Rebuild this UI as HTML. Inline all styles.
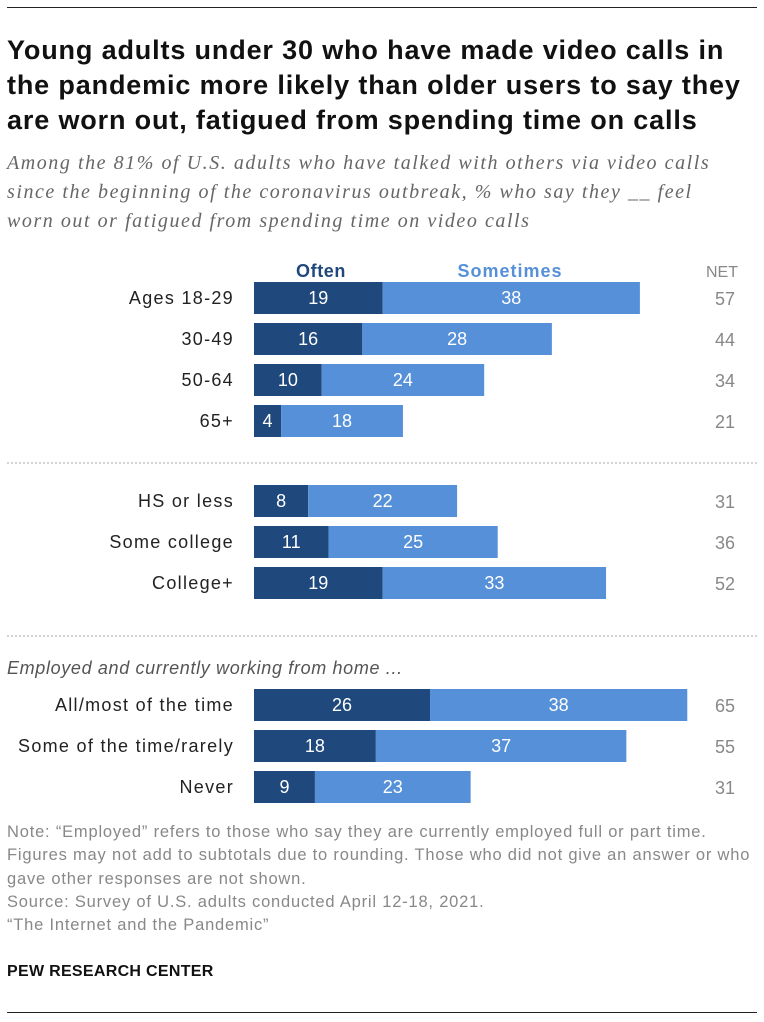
<!DOCTYPE html>
<html><head><meta charset="utf-8"><style>
body{margin:0;width:764px;height:1022px;background:#fff;font-family:"Liberation Sans",sans-serif;position:relative;overflow:hidden}
.abs{position:absolute;white-space:nowrap}
</style></head><body>
<div class="abs" style="left:7px;top:7px;width:750px;height:1px;background:#222"></div>
<div class="abs" style="left:7px;top:33px;font-size:27px;letter-spacing:0.85px;font-weight:bold;line-height:35px;color:#111">Young adults under 30 who have made video calls in<br>the pandemic more likely than older users to say they<br>are worn out, fatigued from spending time on calls</div>
<div class="abs" style="left:7px;top:149px;font-size:20px;letter-spacing:1.55px;font-style:italic;line-height:29px;color:#666;font-family:'Liberation Serif',serif">Among the 81% of U.S. adults who have talked with others via video calls<br>since the beginning of the coronavirus outbreak, % who say they __ feel<br>worn out or fatigued from spending time on video calls</div>
<svg class="abs" style="left:0;top:0" width="764" height="1022">
<text x="321" y="277" text-anchor="middle" font-size="18" letter-spacing="0.6" font-weight="bold" fill="#1f487c">Often</text>
<text x="510" y="277" text-anchor="middle" font-size="18" letter-spacing="1" font-weight="bold" fill="#5590d8">Sometimes</text>
<text x="722" y="277" text-anchor="middle" font-size="16" fill="#888">NET</text>
<line x1="7" y1="463" x2="757" y2="463" stroke="#aaa" stroke-dasharray="2,2"/>
<line x1="7" y1="636" x2="757" y2="636" stroke="#aaa" stroke-dasharray="2,2"/>
<text x="7" y="674" font-size="18" letter-spacing="0.65" font-style="italic" fill="#555">Employed and currently working from home ...</text>
<g id="bars"></g>
</svg>
<div class="abs" style="left:7px;top:821px;font-size:16.5px;letter-spacing:0.8px;line-height:23.3px;color:#888">Note: “Employed” refers to those who say they are currently employed full or part time.<br>Figures may not add to subtotals due to rounding. Those who did not give an answer or who<br>gave other responses are not shown.<br>Source: Survey of U.S. adults conducted April 12-18, 2021.<br>“The Internet and the Pandemic”</div>
<div class="abs" style="left:7px;top:963px;font-size:16px;letter-spacing:0.3px;font-weight:bold;color:#111">PEW RESEARCH CENTER</div>
<div class="abs" style="left:7px;top:1012px;width:750px;height:1px;background:#222"></div>
<script>
const categories=["Ages 18-29","30-49","50-64","65+","HS or less","Some college","College+","All/most of the time","Some of the time/rarely","Never"];
const often=[19,16,10,4,8,11,19,26,18,9];
const sometimes=[38,28,24,18,22,25,33,38,37,23];
const net=[57,44,34,21,31,36,52,65,55,31];
const rowCenters=[298,339,380,421,501,542,583,705,746,787];
const x0=254, k=6.77, h=32;
const sx=v=>v*k;
const g=document.getElementById('bars');
const NS="http://www.w3.org/2000/svg";
function mk(tag,attrs,txt){const e=document.createElementNS(NS,tag);for(const a in attrs)e.setAttribute(a,attrs[a]);if(txt!=null)e.textContent=txt;g.appendChild(e);return e;}
categories.forEach((c,i)=>{
 const cy=rowCenters[i], y=cy-h/2;
 const w1=sx(often[i]), w2=sx(sometimes[i]);
 const lab=mk('text',{x:234,y:cy+6,'text-anchor':'end','font-size':18,'letter-spacing':1.3,fill:'#222'},c);
 
 
 const r1=mk('rect',{x:x0,y:y,width:w1,height:h,fill:'#1f487c'});
 
 
 const r2=mk('rect',{x:x0+w1,y:y,width:w2,height:h,fill:'#5590d8'});
 
 
 const t1=mk('text',{x:x0+w1/2,y:cy+6,'text-anchor':'middle','font-size':18,fill:'#fff'},often[i]);
 
 
 const t2=mk('text',{x:x0+w1+w2/2,y:cy+6,'text-anchor':'middle','font-size':18,fill:'#fff'},sometimes[i]);
 
 
 const t3=mk('text',{x:725,y:cy+7,'text-anchor':'middle','font-size':18,fill:'#888'},net[i]);
 
 
});
</script>
</body></html>
